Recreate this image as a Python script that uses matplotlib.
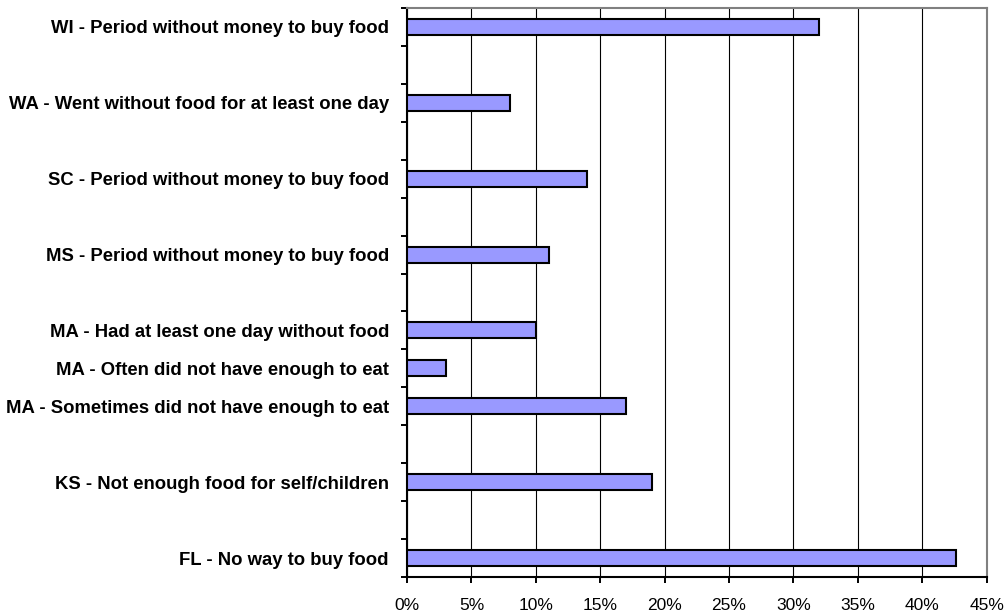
import numpy as np
import matplotlib
matplotlib.use('Agg')
import matplotlib.pyplot as plt
from matplotlib.ticker import FuncFormatter

# Survey items, top to bottom; blank entries are spacer rows between states
labels = [
    'WI - Period without money to buy food',
    '',
    'WA - Went without food for at least one day',
    '',
    'SC - Period without money to buy food',
    '',
    'MS - Period without money to buy food',
    '',
    'MA - Had at least one day without food',
    'MA - Often did not have enough to eat',
    'MA - Sometimes did not have enough to eat',
    '',
    'KS - Not enough food for self/children',
    '',
    'FL - No way to buy food',
]
shares = [0.32, None, 0.08, None, 0.14, None, 0.11, None,
          0.10, 0.03, 0.17, None, 0.19, None, 0.426]
x_ticks = [0, 0.05, 0.10, 0.15, 0.20, 0.25, 0.30, 0.35, 0.40, 0.45]

plt.rcParams['font.family'] = ['Liberation Sans', 'DejaVu Sans']

fig = plt.figure(figsize=(10.07, 6.16), dpi=100)
ax = fig.add_axes([0.4042, 0.0633, 0.5756, 0.9237])

n = len(labels)
ypos = np.arange(n)
keep = [i for i, v in enumerate(shares) if v is not None]
ax.barh(ypos[keep], [shares[i] for i in keep], height=0.42,
        color='#9999FF', edgecolor='black', linewidth=1.5, zorder=3)

ax.set_xlim(0, 0.45)
ax.set_ylim(n - 0.5, -0.5)

ax.set_xticks(x_ticks)
ax.xaxis.set_major_formatter(FuncFormatter(lambda v, p: '{:.0f}%'.format(v * 100)))
ax.tick_params(axis='x', direction='out', length=4.3, width=1.4, pad=11,
               labelsize=12.5)
ax.grid(axis='x', color='black', linewidth=0.8, zorder=0)

# category labels at bar centres, tick marks on the row boundaries
ax.set_yticks(ypos)
ax.set_yticklabels(labels, fontweight='bold', fontsize=13.3)
ax.tick_params(axis='y', which='major', length=0, pad=13)
ax.set_yticks(np.arange(n + 1) - 0.5, minor=True)
ax.tick_params(axis='y', which='minor', direction='out', length=4.3, width=1.4)

for side in ['left', 'bottom']:
    ax.spines[side].set_linewidth(1.5)
    ax.spines[side].set_color('black')
for side in ['top', 'right']:
    ax.spines[side].set_linewidth(1.5)
    ax.spines[side].set_color('#808080')

fig.savefig('out.png', dpi=100)
